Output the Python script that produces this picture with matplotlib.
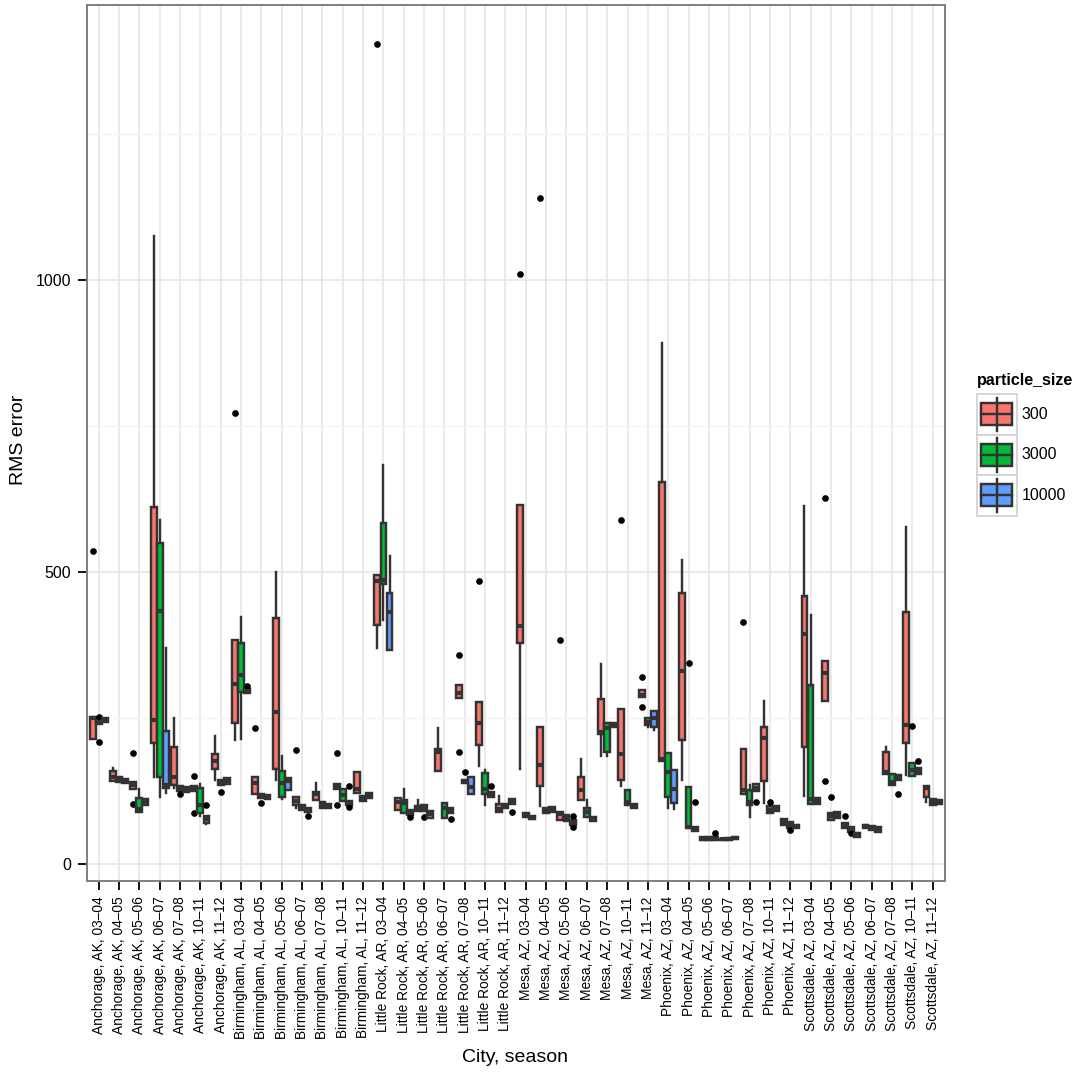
import matplotlib
matplotlib.use("Agg")
import matplotlib.pyplot as plt
from matplotlib.patches import Rectangle
from matplotlib.lines import Line2D
from matplotlib.ticker import FixedLocator

plt.rcParams['font.family'] = ['Liberation Sans', 'DejaVu Sans']

cities = ["Anchorage, AK", "Birmingham, AL", "Little Rock, AR", "Mesa, AZ",
          "Phoenix, AZ", "Scottsdale, AZ"]
seasons = ["03–04", "04–05", "05–06", "06–07", "07–08", "10–11", "11–12"]
categories = [f"{c}, {s}" for c in cities for s in seasons]

particle_sizes = ["300", "3000", "10000"]
fill_colors = ["#F8766D", "#00BA38", "#619CFF"]

# (lower whisker, Q1, median, Q3, upper whisker) per city/season
stats_300 = [
    (214, 214, 250, 252, 252), (143, 143, 150, 160, 164), (128, 128, 135, 141, 141),
    (150, 208, 247, 611, 1076), (130, 136, 150, 200, 251), (126, 126, 130, 134, 134),
    (144, 163, 176, 188, 220),
    (213, 241, 309, 384, 384), (120, 120, 139, 149, 149), (145, 163, 261, 422, 500),
    (96, 102, 109, 116, 116), (110, 110, 120, 124, 139), (129, 129, 133, 137, 137),
    (122, 122, 128, 158, 158),
    (371, 410, 484, 495, 495), (93, 93, 107, 113, 113), (92, 92, 96, 100, 110),
    (160, 160, 193, 197, 234), (285, 285, 293, 307, 307), (168, 205, 242, 277, 277),
    (90, 90, 94, 104, 117),
    (163, 378, 408, 615, 615), (99, 134, 170, 235, 235), (76, 76, 86, 89, 89),
    (110, 110, 127, 150, 180), (185, 223, 226, 283, 343), (134, 144, 189, 265, 265),
    (286, 286, 290, 298, 298),
    (176, 176, 181, 655, 892), (145, 213, 330, 465, 521), (42, 42, 44, 47, 47),
    (41, 41, 42.5, 44, 44), (121, 121, 127, 198, 198), (105, 143, 216, 235, 280),
    (67, 67, 72, 77, 77),
    (117, 200, 394, 460, 614), (280, 280, 327, 348, 348), (62, 62, 66, 71, 71),
    (62, 62, 65, 68, 68), (154, 154, 158, 192, 200), (153, 208, 238, 432, 578),
    (107, 116, 130, 134, 134),
]
outliers_300 = [
    [537], [], [190, 103], [], [], [151, 87], [],
    [773], [234], [], [196], [], [190, 101], [],
    [1404], [], [], [], [359, 193], [484], [],
    [1010], [1140], [383], [], [], [590], [320, 269],
    [], [], [], [], [414], [], [],
    [], [627, 143], [83], [], [], [], [],
]

stats_3000 = [
    (240, 240, 243, 246, 246), (140, 140, 145, 150, 150), (90, 90, 94, 113, 128),
    (116, 150, 434, 550, 590), (126, 126, 130, 134, 134), (83, 88, 101, 130, 137),
    (135, 135, 140, 145, 145),
    (214, 295, 324, 378, 424), (113, 113, 117, 121, 121), (111, 116, 139, 160, 185),
    (93, 93, 97, 101, 101), (97, 97, 102, 107, 107), (109, 109, 119, 128, 128),
    (109, 109, 113, 117, 117),
    (418, 480, 487, 584, 683), (87, 87, 105, 110, 128), (91, 91, 96, 102, 102),
    (79, 79, 96, 105, 105), (139, 139, 142, 145, 145), (101, 121, 128, 156, 161),
    (96, 96, 100, 104, 104),
    (81, 81, 85, 88, 88), (87, 87, 92, 97, 97), (74, 74, 80, 85, 85),
    (81, 81, 90, 96, 110), (185, 193, 233, 241, 241), (101, 101, 107, 127, 127),
    (235, 238, 244, 250, 250),
    (96, 116, 158, 190, 190), (62, 62, 63, 132, 132), (42, 42, 44, 46, 46),
    (41, 41, 43, 45, 45), (81, 101, 107, 127, 135), (88, 88, 93, 99, 99),
    (62, 62, 67, 73, 73),
    (104, 104, 111, 306, 427), (76, 76, 82, 87, 87), (56, 56, 60, 63, 63),
    (59, 59, 62, 66, 66), (136, 136, 140, 154, 154), (151, 151, 161, 173, 173),
    (101, 101, 106, 111, 111),
]
outliers_3000 = [
    [252, 210], [], [], [], [121], [], [124],
    [], [105], [], [], [], [], [],
    [], [], [81], [], [158], [], [],
    [], [], [], [], [], [], [],
    [], [344], [], [], [], [106], [58],
    [], [116], [53], [], [], [236], [],
]

stats_10000 = [
    (244, 244, 247, 250, 250), (139, 139, 142, 146, 146), (101, 101, 106, 112, 112),
    (122, 130, 135, 228, 371), (124, 124, 128, 132, 132), (69, 71, 77, 83, 83),
    (137, 137, 143, 148, 148),
    (293, 293, 296, 300, 300), (112, 112, 116, 119, 119), (127, 127, 142, 147, 147),
    (90, 90, 93, 96, 96), (96, 96, 100, 104, 104), (101, 101, 105, 109, 109),
    (113, 113, 118, 122.5, 122.5),
    (366, 366, 431, 464, 528), (84, 84, 88, 93, 93), (79, 79, 86, 92, 92),
    (88, 88, 92, 96, 96), (120, 120, 133, 150, 150), (116, 116, 120, 124, 124),
    (103, 103, 107, 111, 111),
    (78, 78, 80, 83, 83), (90, 90, 94, 98, 98), (67, 67, 71, 76, 76),
    (74, 74, 77, 81, 81), (234.5, 234.5, 238, 242, 242), (96, 96, 100, 104, 104),
    (230, 235, 250, 262, 262),
    (94, 105, 128, 161, 161), (57.5, 57.5, 61, 64.4, 64.4), (42, 42, 44, 46, 46),
    (43, 43, 45, 47, 47), (126, 126, 130, 137, 137), (92, 92, 95, 99, 99),
    (62, 62, 65, 68, 68),
    (103, 103, 108, 113, 113), (79, 79, 84, 90, 90), (47, 47, 51, 54, 54),
    (56, 56, 60, 63, 63), (144, 144, 148, 152, 152), (154, 154, 159, 164, 164),
    (103, 103, 106, 110, 110),
]
outliers_10000 = [
    [], [], [], [], [], [101], [],
    [305], [], [], [83], [], [134, 97.5], [],
    [], [81.5], [], [77], [], [134.5], [89],
    [], [], [64, 83], [], [], [], [],
    [], [106], [53], [], [106], [], [],
    [], [], [], [], [120], [177], [],
]

series_stats = [stats_300, stats_3000, stats_10000]
series_outliers = [outliers_300, outliers_3000, outliers_10000]

EDGE = "#333333"
LW = 1.75
W, H, DPI = 1079, 1076, 100
fig = plt.figure(figsize=(W / DPI, H / DPI), dpi=DPI)
ax = fig.add_axes([86.5 / W, 1 - 881 / H, (944.8 - 86.5) / W, (881 - 5) / H])

box_w = 0.3
zo = 3
for i in range(len(categories)):
    for g, (stats, outs) in enumerate(zip(series_stats, series_outliers)):
        lo, q1, med, q3, hi = stats[i]
        st = dict(whislo=lo, q1=q1, med=med, q3=q3, whishi=hi, fliers=outs[i])
        pos = i + (g - 1) * box_w
        ax.bxp([st], positions=[pos], widths=box_w * 0.96, patch_artist=True,
               showcaps=False, manage_ticks=False,
               boxprops=dict(facecolor=fill_colors[g], edgecolor=EDGE, linewidth=LW),
               whiskerprops=dict(color=EDGE, linewidth=LW),
               medianprops=dict(color=EDGE, linewidth=3.0, solid_capstyle="butt"),
               flierprops=dict(marker="o", markerfacecolor="black",
                               markeredgecolor="black", markersize=3.8),
               zorder=zo)
        zo += 0.01

ax.set_xlim(-0.6, len(categories) - 0.4)
ax.set_ylim(-28.6, 1470.6)
ax.set_xticks(range(len(categories)))
ax.set_xticklabels(categories, rotation=90, ha="center", va="top", fontsize=9.9)
ax.set_yticks([0, 500, 1000])
ax.set_yticklabels(["0", "500", "1000"], fontsize=11.5)
ax.yaxis.set_minor_locator(FixedLocator([250, 750, 1250]))
ax.tick_params(axis="both", which="major", length=6.5, width=1.3, color="black",
               labelcolor="black", pad=4.5)
ax.tick_params(axis="y", which="minor", length=0)

ax.set_axisbelow(True)
ax.grid(True, which="major", color="#E6E6E6", linewidth=1.2)
ax.grid(True, which="minor", axis="y", color="#F3F3F3", linewidth=1.0)
for sp in ax.spines.values():
    sp.set_color("#7F7F7F")
    sp.set_linewidth(1.4)

fig.text(515 / W, 1 - 1057 / H, "City, season", fontsize=14, ha="center", va="center")
fig.text(19 / W, 1 - 440 / H, "RMS error", fontsize=14, rotation=90,
         ha="center", va="center")

# legend drawn in pixel coordinates
lax = fig.add_axes([0, 0, 1, 1], facecolor="none")
lax.set_xlim(0, W)
lax.set_ylim(H, 0)
lax.axis("off")
lax.text(976.5, 381, "particle_size", fontsize=11.5, fontweight="bold",
         ha="left", va="center")
key_top = 394
key_h = 40.5
for g, (lab, col) in enumerate(zip(particle_sizes, fill_colors)):
    y0 = key_top + g * key_h
    lax.add_patch(Rectangle((976.5, y0), 40.5, key_h, facecolor="white",
                            edgecolor="#D3D3D3", linewidth=1.3))
    cx = 976.5 + 40.5 / 2
    cy = y0 + key_h / 2
    lax.add_line(Line2D([cx, cx], [y0 + 3.5, y0 + key_h - 3.5], color=EDGE, linewidth=LW))
    lax.add_patch(Rectangle((980.7, cy - 10.8), 31.5, 21.6, facecolor=col,
                            edgecolor=EDGE, linewidth=LW))
    lax.add_line(Line2D([980.7, 1012.2], [cy, cy], color=EDGE, linewidth=LW))
    lax.text(1021.5, cy, lab, fontsize=11.5, ha="left", va="center")

fig.savefig("out.png", dpi=DPI, facecolor="white")
